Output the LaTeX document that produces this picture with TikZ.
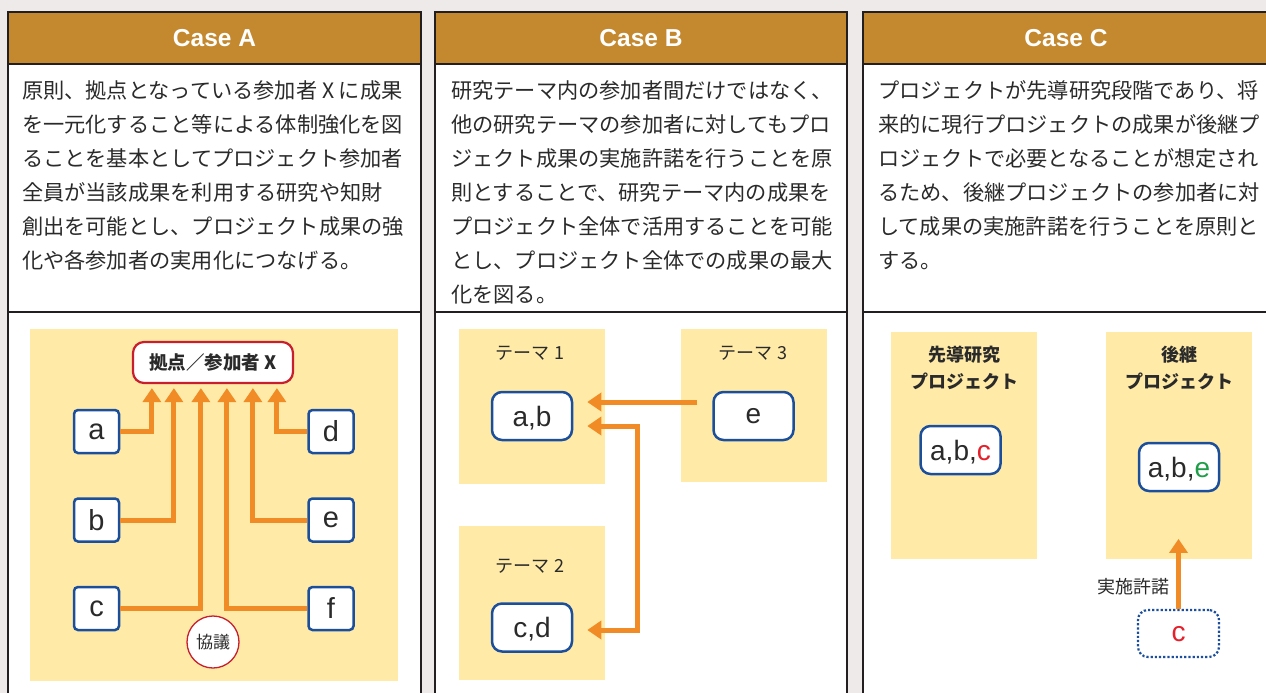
\documentclass[tikz,border=0pt]{standalone}
\usepackage{fontspec}
\setmainfont{Liberation Sans}
\newfontfamily\jp{Noto Sans CJK JP}
\usetikzlibrary{arrows.meta,calc}
\definecolor{bgC}{HTML}{EEEAE9}
\definecolor{hdrC}{HTML}{C4882F}
\definecolor{frameC}{HTML}{231F20}
\definecolor{txt}{HTML}{2A2A2A}
\definecolor{yel}{HTML}{FFEBA7}
\definecolor{blu}{HTML}{1B4F9C}
\definecolor{org}{HTML}{F18B25}
\definecolor{redB}{HTML}{C81E2D}
\definecolor{redT}{HTML}{E5202A}
\definecolor{grn}{HTML}{1F9E4A}
\tikzset{
  frame/.style={draw=frameC, line width=1.5pt},
  hdr/.style={font=\fontsize{24.5}{28}\selectfont\bfseries, text=white, inner sep=0pt},
  body/.style={font=\jp\fontsize{21.2}{34}\selectfont, text=txt, anchor=base west, inner sep=0pt},
  lbox/.style={draw=blu, line width=2.5pt, fill=white, rounded corners=4pt, minimum width=45pt, minimum height=43pt, inner sep=0pt, font=\fontsize{29}{30}\selectfont, text=txt},
  rbox/.style={draw=blu, line width=2.5pt, fill=white, rounded corners=10pt, minimum width=80pt, minimum height=48pt, inner sep=0pt, font=\fontsize{28}{30}\selectfont, text=txt, text depth=0pt},
  dbox/.style={draw=blu, line width=2.2pt, dotted, fill=white, rounded corners=10pt, minimum width=81pt, minimum height=47pt, inner sep=0pt, font=\fontsize{28}{30}\selectfont, text=redT, text depth=0pt},
  xbox/.style={draw=redB, line width=2.2pt, fill=white, rounded corners=11pt, minimum width=160pt, minimum height=41pt, inner sep=0pt, font=\jp\bfseries\fontsize{18.5}{20}\selectfont, text=txt},
  circ/.style={circle, draw=redB, line width=1.3pt, fill=white, minimum size=52pt, inner sep=0pt, font=\jp\fontsize{17}{19}\selectfont, text=txt},
  theme/.style={font=\jp\fontsize{18}{20}\selectfont, text=txt, inner sep=0pt},
  blab/.style={font=\jp\bfseries\fontsize{18}{20}\selectfont, text=txt, inner sep=0pt},
  oarr/.style={draw=org, line width=5pt, line join=miter, -{Triangle[width=18pt,length=14pt]}},
  oarrB/.style={draw=org, line width=5pt, line join=miter, {Triangle[width=18pt,length=14pt]}-{Triangle[width=18pt,length=14pt]}},
}
\begin{document}
\begin{tikzpicture}[x=1pt,y=-1pt]
\useasboundingbox (0,0) rectangle (1266,693);
\fill[bgC] (0,0) rectangle (1266,693);
% panels
\foreach \L/\R in {8/421, 435/847, 863/1280}{
  \fill[white] (\L,12) rectangle (\R,700);
  \fill[hdrC] (\L,12) rectangle (\R,64);
  \draw[frame] (\L,700) -- (\L,12) -- (\R,12) -- (\R,700);
  \draw[frame] (\L,64) -- (\R,64);
  \draw[frame] (\L,312) -- (\R,312);
}
\node[hdr] (hA) at (214.5,38.5) {Case A};
\node[hdr] (hB) at (641,38.5) {Case B};
\node[hdr] (hC) at (1066,38.5) {Case C};
% body texts
\foreach \t [count=\i] in {原則、拠点となっている参加者 X に成果, を一元化すること等による体制強化を図, ることを基本としてプロジェクト参加者, 全員が当該成果を利用する研究や知財, 創出を可能とし、プロジェクト成果の強, 化や各参加者の実用化につなげる。}
  \node[body] (tA\i) at (22,{98+34*(\i-1)}) {\t};
\foreach \t [count=\i] in {研究テーマ内の参加者間だけではなく、, 他の研究テーマの参加者に対してもプロ, ジェクト成果の実施許諾を行うことを原, 則とすることで、研究テーマ内の成果を, プロジェクト全体で活用することを可能, とし、プロジェクト全体での成果の最大, 化を図る。}
  \node[body] (tB\i) at (451,{98+34*(\i-1)}) {\t};
\foreach \t [count=\i] in {プロジェクトが先導研究段階であり、将, 来的に現行プロジェクトの成果が後継プ, ロジェクトで必要となることが想定され, るため、後継プロジェクトの参加者に対, して成果の実施許諾を行うことを原則と, する。}
  \node[body] (tC\i) at (878,{98+34*(\i-1)}) {\t};
% ---------- Case A diagram
\fill[yel] (30,329) rectangle (398,681);
\node[xbox] (X) at (213,362.5) {拠点／参加者 X};
\node[lbox] (a) at (96.5,431.5) {a};
\node[lbox] (b) at (96.5,520) {b};
\node[lbox] (c) at (96.5,608.5) {c};
\node[lbox] (d) at (331,431.5) {d};
\node[lbox] (e) at (331,520) {e};
\node[lbox] (f) at (331,608.5) {f};
\node[circ] (k) at (213,642) {協議};
\draw[oarr] (a.east) -| ([xshift=20pt,yshift=-4pt]X.south west);
\draw[oarr] (b.east) -| ([xshift=42pt,yshift=-4pt]X.south west);
\draw[oarr] (c.east) -| ([xshift=69pt,yshift=-4pt]X.south west);
\draw[oarr] (f.west) -| ([xshift=95pt,yshift=-4pt]X.south west);
\draw[oarr] (e.west) -| ([xshift=121pt,yshift=-4pt]X.south west);
\draw[oarr] (d.west) -| ([xshift=145pt,yshift=-4pt]X.south west);
% ---------- Case B diagram
\fill[yel] (459,329) rectangle (605,484);
\fill[yel] (681,329) rectangle (827,482);
\fill[yel] (459,526) rectangle (605,680);
\node[theme] (t1) at (530,353) {テーマ 1};
\node[theme] (t3) at (753,353) {テーマ 3};
\node[theme] (t2) at (530,566) {テーマ 2};
\node[rbox] (ab) at (532,416) {a,b};
\node[rbox] (eB) at (753.5,416) {e};
\node[rbox] (cd) at (532,627.5) {c,d};
\draw[oarr] ([xshift=-15pt,yshift=14pt]eB.west) -- ([xshift=14pt,yshift=14pt]ab.east);
\draw[oarrB] ([xshift=14pt,yshift=-10pt]ab.east) -| ([xshift=64pt,yshift=-2.5pt]cd.east) -- ([xshift=14pt,yshift=-2.5pt]cd.east);
% ---------- Case C diagram
\fill[yel] (891,332) rectangle (1037,559);
\fill[yel] (1106,332) rectangle (1252,559);
\node[blab] (p1a) at (964,355) {先導研究};
\node[blab] (p1b) at (964,381) {プロジェクト};
\node[blab] (p2a) at (1179,355) {後継};
\node[blab] (p2b) at (1179,381) {プロジェクト};
\node[rbox] (abc) at (960.5,450) {a,b,\textcolor{redT}{c}};
\node[rbox] (abe) at (1179,467) {a,b,\textcolor{grn}{e}};
\node[dbox] (cc) at (1178.5,633.5) {c};
\draw[oarr] (cc.north) -- ++(0,-70);
\node[theme] (lic) at (1133,587) {実施許諾};
\end{tikzpicture}
\end{document}
